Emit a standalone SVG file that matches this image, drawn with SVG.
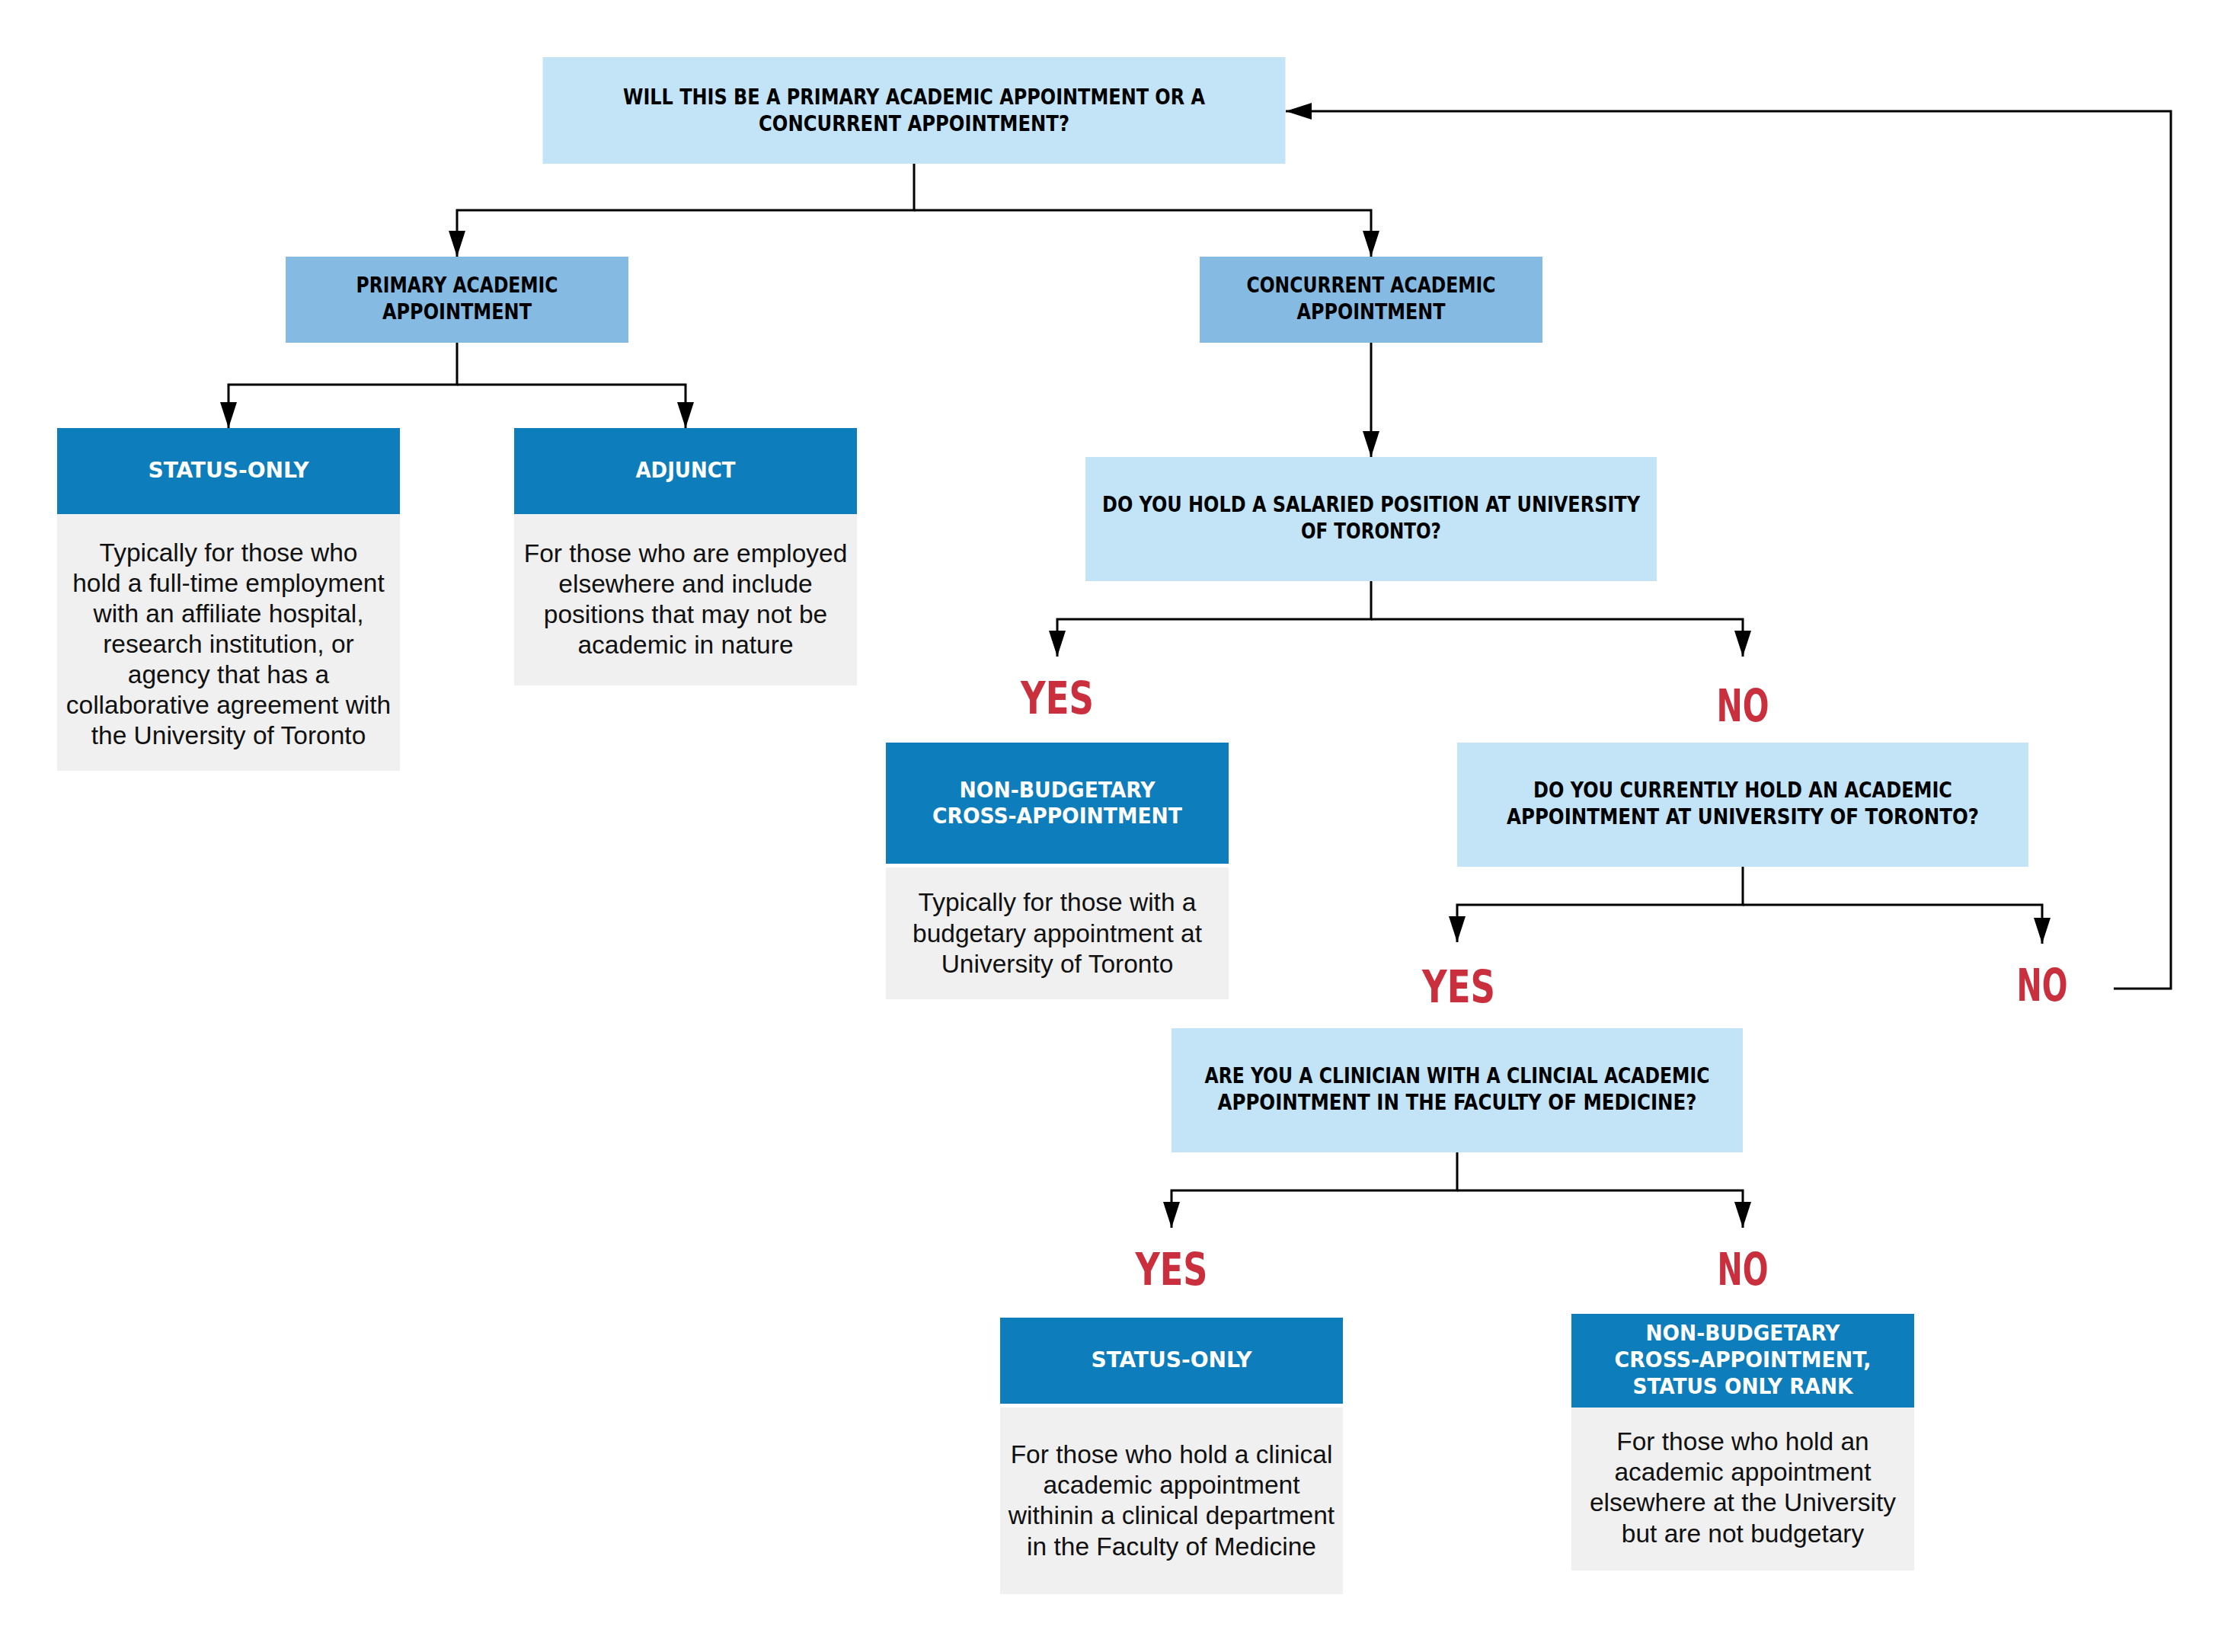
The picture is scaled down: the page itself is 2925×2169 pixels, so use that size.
<svg xmlns="http://www.w3.org/2000/svg" width="2925" height="2169" viewBox="0 0 2925 2169">
<style>
.bg{fill:#ffffff}
.light{fill:#C2E4F6}
.mid{fill:#85BAE3}
.dark{fill:#0E7DBC}
.body{fill:#F0F0F0}
.h{font-family:"Liberation Sans Narrow","DejaVu Sans Condensed","Liberation Sans",sans-serif;font-weight:bold;font-size:29px;text-anchor:middle;fill:#000}
.hw{fill:#ffffff}
.t{font-family:"Liberation Sans",Arial,sans-serif;font-size:33.5px;text-anchor:middle;fill:#111}
.yn{font-family:"Liberation Sans Narrow","DejaVu Sans Condensed","Liberation Sans",sans-serif;font-weight:bold;font-size:58px;text-anchor:middle;fill:#C92F3D}
.c{fill:none;stroke:#000;stroke-width:3}
</style>
<defs>
<marker id="ah" markerUnits="userSpaceOnUse" markerWidth="34" markerHeight="22" refX="34" refY="11" orient="auto">
<path d="M0,0 L34,11 L0,22 z" fill="#000"/>
</marker>
</defs>
<rect class="bg" x="0" y="0" width="2925" height="2169"/>

<g id="connectors">
<path class="c" d="M1200 215 V276 H600 V337" marker-end="url(#ah)"/>
<path class="c" d="M1200 276 H1800 V337" marker-end="url(#ah)"/>
<path class="c" d="M600 450 V505 H300 V562" marker-end="url(#ah)"/>
<path class="c" d="M600 505 H900 V562" marker-end="url(#ah)"/>
<path class="c" d="M1800 450 V600" marker-end="url(#ah)"/>
<path class="c" d="M1800 763 V813 H1388 V862" marker-end="url(#ah)"/>
<path class="c" d="M1800 813 H2288 V862" marker-end="url(#ah)"/>
<path class="c" d="M2288 1138 V1188 H1913 V1237" marker-end="url(#ah)"/>
<path class="c" d="M2288 1188 H2681 V1239" marker-end="url(#ah)"/>
<path class="c" d="M1913 1513 V1563 H1538 V1612" marker-end="url(#ah)"/>
<path class="c" d="M1913 1563 H2288 V1612" marker-end="url(#ah)"/>
<path class="c" d="M2775 1298 H2850 V146 H1688" marker-end="url(#ah)"/>
</g>

<g id="q-primary-or-concurrent">
<rect class="light" x="712.5" y="75" width="975" height="140"/>
<text class="h" x="1200" y="137" textLength="764" lengthAdjust="spacingAndGlyphs">WILL THIS BE A PRIMARY ACADEMIC APPOINTMENT OR A</text>
<text class="h" x="1200" y="172" textLength="408" lengthAdjust="spacingAndGlyphs">CONCURRENT APPOINTMENT?</text>
</g>

<g id="primary">
<rect class="mid" x="375" y="337" width="450" height="113"/>
<text class="h" x="600" y="384" textLength="265" lengthAdjust="spacingAndGlyphs">PRIMARY ACADEMIC</text>
<text class="h" x="600" y="419" textLength="196" lengthAdjust="spacingAndGlyphs">APPOINTMENT</text>
</g>

<g id="concurrent">
<rect class="mid" x="1575" y="337" width="450" height="113"/>
<text class="h" x="1800" y="384" textLength="327" lengthAdjust="spacingAndGlyphs">CONCURRENT ACADEMIC</text>
<text class="h" x="1800" y="419" textLength="195" lengthAdjust="spacingAndGlyphs">APPOINTMENT</text>
</g>

<g id="status-only-1">
<rect class="dark" x="75" y="562" width="450" height="113"/>
<rect class="body" x="75" y="675" width="450" height="337"/>
<text class="h hw" x="300" y="627" textLength="211" lengthAdjust="spacingAndGlyphs">STATUS-ONLY</text>
<text class="t" x="300" y="737">Typically for those who</text>
<text class="t" x="300" y="777">hold a full-time employment</text>
<text class="t" x="300" y="817">with an affiliate hospital,</text>
<text class="t" x="300" y="857">research institution, or</text>
<text class="t" x="300" y="897">agency that has a</text>
<text class="t" x="300" y="937">collaborative agreement with</text>
<text class="t" x="300" y="977">the University of Toronto</text>
</g>

<g id="adjunct">
<rect class="dark" x="675" y="562" width="450" height="113"/>
<rect class="body" x="675" y="675" width="450" height="225"/>
<text class="h hw" x="900" y="627" textLength="131" lengthAdjust="spacingAndGlyphs">ADJUNCT</text>
<text class="t" x="900" y="738">For those who are employed</text>
<text class="t" x="900" y="778">elsewhere and include</text>
<text class="t" x="900" y="818">positions that may not be</text>
<text class="t" x="900" y="858">academic in nature</text>
</g>

<g id="q-salaried">
<rect class="light" x="1425" y="600" width="750" height="163"/>
<text class="h" x="1800" y="672" textLength="706" lengthAdjust="spacingAndGlyphs">DO YOU HOLD A SALARIED POSITION AT UNIVERSITY</text>
<text class="h" x="1800" y="707" textLength="184" lengthAdjust="spacingAndGlyphs">OF TORONTO?</text>
</g>

<g id="label-yes-1"><text class="yn" x="1388" y="937" textLength="96" lengthAdjust="spacingAndGlyphs">YES</text></g>
<g id="label-no-1"><text class="yn" x="2288" y="947" textLength="69" lengthAdjust="spacingAndGlyphs">NO</text></g>

<g id="non-budgetary">
<rect class="dark" x="1163" y="975" width="450" height="159"/>
<rect class="body" x="1163" y="1139" width="450" height="173"/>
<text class="h hw" x="1388" y="1047" textLength="257" lengthAdjust="spacingAndGlyphs">NON-BUDGETARY</text>
<text class="h hw" x="1388" y="1081" textLength="328" lengthAdjust="spacingAndGlyphs">CROSS-APPOINTMENT</text>
<text class="t" x="1388" y="1196">Typically for those with a</text>
<text class="t" x="1388" y="1237">budgetary appointment at</text>
<text class="t" x="1388" y="1277">University of Toronto</text>
</g>

<g id="q-current">
<rect class="light" x="1913" y="975" width="750" height="163"/>
<text class="h" x="2288" y="1047" textLength="550" lengthAdjust="spacingAndGlyphs">DO YOU CURRENTLY HOLD AN ACADEMIC</text>
<text class="h" x="2288" y="1082" textLength="620" lengthAdjust="spacingAndGlyphs">APPOINTMENT AT UNIVERSITY OF TORONTO?</text>
</g>

<g id="label-yes-2"><text class="yn" x="1915" y="1316" textLength="96" lengthAdjust="spacingAndGlyphs">YES</text></g>
<g id="label-no-2"><text class="yn" x="2681" y="1314" textLength="67" lengthAdjust="spacingAndGlyphs">NO</text></g>

<g id="q-clinician">
<rect class="light" x="1538" y="1350" width="750" height="163"/>
<text class="h" x="1913" y="1422" textLength="663" lengthAdjust="spacingAndGlyphs">ARE YOU A CLINICIAN WITH A CLINCIAL ACADEMIC</text>
<text class="h" x="1913" y="1457" textLength="629" lengthAdjust="spacingAndGlyphs">APPOINTMENT IN THE FACULTY OF MEDICINE?</text>
</g>

<g id="label-yes-3"><text class="yn" x="1538" y="1687" textLength="95" lengthAdjust="spacingAndGlyphs">YES</text></g>
<g id="label-no-3"><text class="yn" x="2288" y="1687" textLength="67" lengthAdjust="spacingAndGlyphs">NO</text></g>

<g id="status-only-2">
<rect class="dark" x="1313" y="1730" width="450" height="113"/>
<rect class="body" x="1313" y="1848" width="450" height="245"/>
<text class="h hw" x="1538" y="1795" textLength="211" lengthAdjust="spacingAndGlyphs">STATUS-ONLY</text>
<text class="t" x="1538" y="1921">For those who hold a clinical</text>
<text class="t" x="1538" y="1961">academic appointment</text>
<text class="t" x="1538" y="2001">withinin a clinical department</text>
<text class="t" x="1538" y="2042">in the Faculty of Medicine</text>
</g>

<g id="non-budgetary-status-only">
<rect class="dark" x="2063" y="1725" width="450" height="123"/>
<rect class="body" x="2063" y="1848" width="450" height="214"/>
<text class="h hw" x="2288" y="1760" textLength="255" lengthAdjust="spacingAndGlyphs">NON-BUDGETARY</text>
<text class="h hw" x="2288" y="1795" textLength="337" lengthAdjust="spacingAndGlyphs">CROSS-APPOINTMENT,</text>
<text class="h hw" x="2288" y="1830" textLength="289" lengthAdjust="spacingAndGlyphs">STATUS ONLY RANK</text>
<text class="t" x="2288" y="1904">For those who hold an</text>
<text class="t" x="2288" y="1944">academic appointment</text>
<text class="t" x="2288" y="1984">elsewhere at the University</text>
<text class="t" x="2288" y="2025">but are not budgetary</text>
</g>
</svg>
